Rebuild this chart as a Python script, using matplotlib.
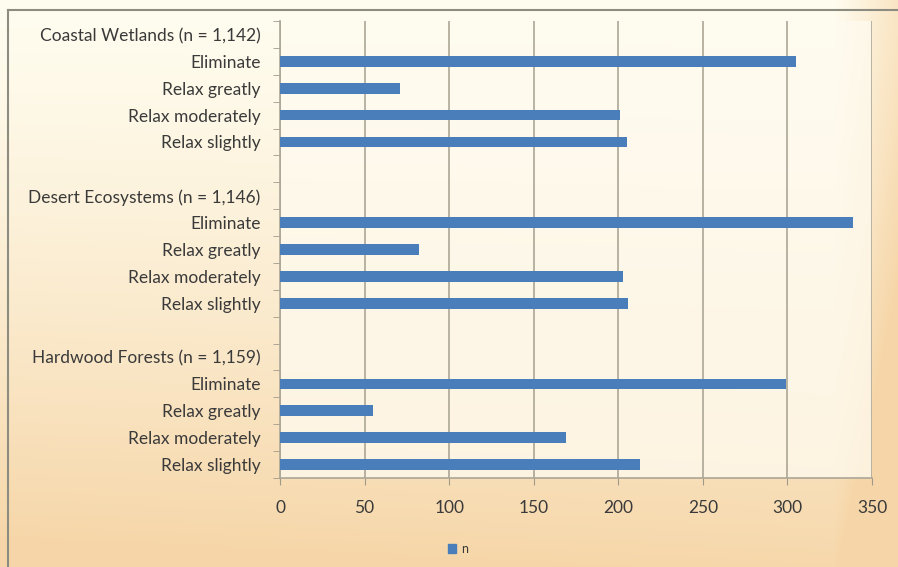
import numpy as np
import matplotlib
matplotlib.use("Agg")
import matplotlib.pyplot as plt
from matplotlib.patches import Patch
from matplotlib.ticker import FixedLocator, NullFormatter

groups = ["Coastal Wetlands (n = 1,142)", "Desert Ecosystems (n = 1,146)", "Hardwood Forests (n = 1,159)"]
responses = ["Eliminate", "Relax greatly", "Relax moderately", "Relax slightly"]
coastal = [305, 71, 201, 205]
desert = [339, 82, 203, 206]
hardwood = [299, 55, 169, 213]
x_ticks = [0, 50, 100, 150, 200, 250, 300, 350]

series = [coastal, desert, hardwood]
labels, values = [], []
for gi, (g, vals) in enumerate(zip(groups, series)):
    labels.append(g); values.append(np.nan)
    for r, v in zip(responses, vals):
        labels.append(r); values.append(v)
    if gi < len(groups) - 1:
        labels.append(""); values.append(np.nan)

n = len(labels)
ypos = np.arange(n)[::-1]

plt.rcParams['font.family'] = ['Lato', 'DejaVu Sans']
W, H = 898, 567
fig = plt.figure(figsize=(W/100, H/100), dpi=100)

# background gradient
bg = fig.add_axes([0, 0, 1, 1])
bg.set_axis_off()
ny, nx = 200, 300
t = np.linspace(0, 1, ny)[:, None] * np.ones((1, nx))
s = np.ones((ny, 1)) * np.linspace(0, 1, nx)[None, :]
c0 = np.array([1.0, 0.992, 0.94])
c1 = np.array([0.965, 0.84, 0.66])
f = np.clip(t**1.3 * 0.95 + np.clip((s - 0.93) / 0.07, 0, 1) * 0.6 + (1 - s) * t * 0.1, 0, 1)
img = c0[None, None, :] * (1 - f[..., None]) + c1[None, None, :] * f[..., None]
bg.imshow(img, extent=[0, 1, 0, 1], aspect='auto', origin='upper')
bg.set_xlim(0, 1); bg.set_ylim(0, 1)
# frame lines
bg.plot([8/W, 8/W], [1 - 10/H, 0], color='#8c8c80', lw=1.5)
bg.plot([8/W, 1], [1 - 10/H, 1 - 10/H], color='#8c8c80', lw=1.5)

left, right, top_px, bottom_px = 280/W, 872/W, 21, 478
ax = fig.add_axes([left, 1 - bottom_px/H, right - left, (bottom_px - top_px)/H])
ax.set_facecolor((1.0, 0.985, 0.94, 0.75))
ax.barh(ypos, values, height=0.4, color='#4a7ebb', zorder=3)
ax.set_xlim(0, 350)
ax.set_ylim(-0.5, n - 0.5)
ax.set_xticks(x_ticks)
ax.set_yticks(ypos)
ax.set_yticklabels(labels)
ax.yaxis.set_minor_locator(FixedLocator(np.arange(n + 1) - 0.5))
ax.yaxis.set_minor_formatter(NullFormatter())
ax.tick_params(axis='y', which='major', length=0, pad=14, labelsize=12.5, labelcolor='#3a3a3a')
ax.tick_params(axis='y', which='minor', length=5, color='#a09a8a', direction='out')
ax.tick_params(axis='x', which='major', length=5, color='#a09a8a', pad=11, labelsize=12.5, labelcolor='#3a3a3a')
ax.grid(axis='x', color='#aca696', lw=1.2, zorder=1)
for sp in ['top', 'right']:
    ax.spines[sp].set_visible(False)
for sp in ['left', 'bottom']:
    ax.spines[sp].set_color('#aca696')
    ax.spines[sp].set_linewidth(1.2)

fig.legend(handles=[Patch(color='#4a7ebb', label='n')], loc='center',
           bbox_to_anchor=(458/W, 1 - 549/H), frameon=False, fontsize=9,
           handlelength=0.7, handleheight=0.7, handletextpad=0.4, labelcolor='#3a3a3a')

fig.savefig('out.png', dpi=100)
